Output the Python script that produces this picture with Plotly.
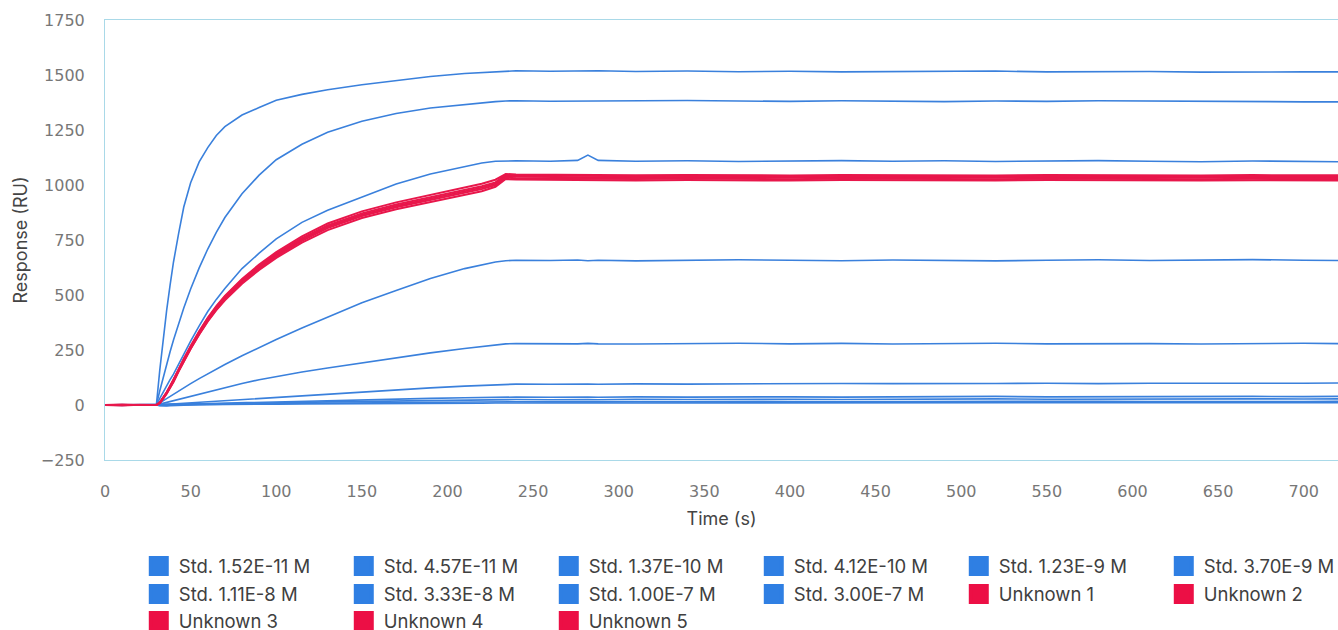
import plotly.graph_objects as go

# ---------------- data ----------------
time_s = [0, 10, 20, 30, 32, 34, 36, 38, 40, 43, 46, 50, 55, 60, 65, 70, 80, 90, 100,
          115, 130, 150, 170, 190, 210, 220, 228, 234, 240, 260, 276, 282, 288, 310,
          340, 370, 400, 430, 460, 490, 520, 550, 580, 610, 640, 670, 700, 720]

std_labels = ["Std. 1.52E-11 M", "Std. 4.57E-11 M", "Std. 1.37E-10 M", "Std. 4.12E-10 M",
              "Std. 1.23E-9 M", "Std. 3.70E-9 M", "Std. 1.11E-8 M", "Std. 3.33E-8 M",
              "Std. 1.00E-7 M", "Std. 3.00E-7 M"]
unk_labels = ["Unknown 1", "Unknown 2", "Unknown 3", "Unknown 4", "Unknown 5"]

std_1_52e_11 = [0, 0, 1, 0, -3, -5, -4, -3, -2, -1, 0, 0, 1, 1, 2, 2, 3, 3, 4, 5, 5, 6, 7, 7, 8, 8, 9, 9,
                9, 8, 10, 9, 8, 10, 9, 10, 9, 8, 10, 11, 9, 10, 11, 10, 9, 11, 10, 11]
std_4_57e_11 = [0, 1, 0, 0, -2, -3, -2, -1, 0, 0, 1, 1, 2, 3, 3, 4, 5, 6, 7, 8, 9, 10, 11, 12, 13, 14, 14, 15,
                15, 14, 16, 15, 14, 16, 15, 17, 16, 15, 16, 17, 15, 16, 17, 16, 15, 17, 16, 17]
std_1_37e_10 = [0, -1, 0, 0, 0, 0, 1, 1, 1, 2, 2, 3, 4, 4, 5, 6, 7, 8, 10, 12, 14, 16, 18, 20, 22, 23, 24, 25,
                25, 24, 26, 25, 24, 26, 25, 27, 26, 25, 27, 26, 28, 26, 27, 28, 26, 28, 27, 28]
std_4_12e_10 = [0, 1, -1, 0, 0, 1, 1, 2, 2, 3, 4, 5, 6, 7, 8, 9, 11, 13, 15, 18, 21, 24, 27, 30, 33, 34, 35, 36,
                36, 35, 37, 36, 35, 37, 36, 38, 37, 36, 38, 37, 39, 37, 38, 40, 38, 39, 38, 39]
std_1_23e_9 = [0, -1, 1, 0, 1, 2, 3, 4, 5, 6, 8, 10, 12, 15, 17, 20, 25, 30, 35, 42, 50, 60, 69, 78, 86, 90, 93, 95,
               95, 94, 96, 95, 94, 96, 95, 97, 96, 98, 97, 96, 98, 99, 97, 99, 98, 100, 99, 100]
std_3_70e_9 = [0, 1, -1, 0, 4, 8, 12, 16, 20, 26, 32, 40, 50, 60, 70, 80, 98, 115, 130, 150, 168, 192, 215, 237,
               257, 266, 274, 278,
               279, 277, 278, 280, 278, 277, 279, 281, 278, 280, 277, 279, 281, 278, 280, 279, 277, 280, 281, 279]
std_1_11e_8 = [0, -2, 1, 0, 10, 20, 30, 40, 50, 64, 78, 97, 120, 142, 163, 184, 224, 262, 298, 350, 400, 465, 520,
               575, 620, 638, 650, 656,
               658, 657, 659, 656, 658, 655, 657, 660, 658, 656, 659, 657, 655, 658, 660, 657, 659, 661, 658, 657]
std_3_33e_8 = [0, 1, -1, 0, 30, 60, 85, 115, 140, 185, 235, 290, 360, 425, 480, 530, 620, 690, 755, 830, 885, 945,
               1005, 1050, 1085, 1100, 1108, 1110,
               1110, 1108, 1112, 1136, 1112, 1108, 1110, 1107, 1109, 1111, 1108, 1110, 1107, 1109, 1111, 1108,
               1106, 1109, 1107, 1106]
std_1_00e_7 = [0, -1, 1, 0, 65, 127, 185, 242, 295, 370, 441, 527, 623, 709, 785, 852, 960, 1045, 1115, 1185, 1240,
               1290, 1325, 1350, 1367, 1374, 1379, 1382,
               1383, 1381, 1382, 1380, 1383, 1381, 1384, 1382, 1380, 1383, 1381, 1379, 1382, 1380, 1383, 1381,
               1379, 1380, 1378, 1378]
std_3_00e_7 = [0, 2, -1, 0, 160, 300, 430, 545, 650, 780, 900, 1010, 1105, 1170, 1225, 1265, 1318, 1352, 1385, 1412,
               1433, 1456, 1476, 1493, 1507, 1512, 1516, 1518,
               1519, 1517, 1518, 1517, 1519, 1516, 1518, 1515, 1517, 1514, 1516, 1515, 1518, 1514, 1515, 1516,
               1513, 1515, 1514, 1514]

unknown_1 = [0, -2, 1, 0, 10, 30, 55, 82, 110, 158, 205, 262, 328, 388, 440, 486, 562, 626, 682, 752, 810, 865, 905,
             938, 970, 988, 1006, 1040,
             1038, 1036, 1037, 1035, 1036, 1034, 1036, 1035, 1033, 1036, 1034, 1035, 1033, 1036, 1034, 1035,
             1033, 1035, 1034, 1034]
unknown_2 = [0, 1, -1, 0, 12, 33, 58, 86, 114, 162, 210, 267, 333, 394, 446, 492, 568, 632, 688, 758, 816, 871, 911,
             944, 976, 994, 1012, 1046,
             1044, 1042, 1043, 1041, 1042, 1040, 1042, 1041, 1039, 1042, 1040, 1041, 1039, 1042, 1040, 1041,
             1039, 1041, 1040, 1040]
unknown_3 = [0, -1, 0, 0, 8, 27, 51, 78, 105, 153, 200, 256, 322, 382, 434, 480, 556, 620, 676, 746, 804, 859, 899,
             932, 964, 982, 1000, 1033,
             1031, 1029, 1030, 1028, 1029, 1027, 1029, 1028, 1026, 1029, 1027, 1028, 1026, 1029, 1027, 1028,
             1026, 1028, 1027, 1027]
unknown_4 = [0, 2, 0, 0, 11, 31, 57, 85, 113, 162, 210, 268, 335, 396, 449, 496, 573, 638, 695, 766, 825, 880, 921,
             955, 988, 1006, 1024, 1050,
             1048, 1046, 1047, 1045, 1046, 1044, 1046, 1045, 1043, 1046, 1044, 1045, 1043, 1046, 1044, 1045,
             1043, 1045, 1044, 1044]
unknown_5 = [0, 0, -1, 0, 9, 28, 52, 79, 106, 154, 200, 256, 321, 380, 431, 476, 551, 614, 669, 738, 795, 850, 890,
             922, 954, 972, 992, 1027,
             1025, 1023, 1024, 1022, 1023, 1021, 1023, 1022, 1020, 1023, 1021, 1022, 1020, 1023, 1021, 1022,
             1020, 1022, 1021, 1021]

std_series = [std_1_52e_11, std_4_57e_11, std_1_37e_10, std_4_12e_10, std_1_23e_9,
              std_3_70e_9, std_1_11e_8, std_3_33e_8, std_1_00e_7, std_3_00e_7]
unk_series = [unknown_1, unknown_2, unknown_3, unknown_4, unknown_5]

x_ticks = list(range(0, 751, 50))
y_ticks = list(range(-250, 1751, 250))

# ---------------- styling ----------------
BLUE_LINE = "#3a80dc"
BLUE_KEY = "#2f7fe3"
RED_LINE = "#e8174b"
RED_KEY = "#ec0f45"
BORDER = "#a9d9e8"
LEGEND_FONT = dict(family="Inter, Noto Sans, sans-serif", size=18.5, color="#404040")

fig = go.Figure()

for name, vals in zip(std_labels, std_series):
    fig.add_trace(go.Scatter(x=time_s, y=vals, mode="lines", name=name, showlegend=False,
                             line=dict(color=BLUE_LINE, width=1.6)))
for name, vals in zip(unk_labels, unk_series):
    fig.add_trace(go.Scatter(x=time_s, y=vals, mode="lines", name=name, showlegend=False,
                             line=dict(color=RED_LINE, width=2)))

# legend keys (square swatches), laid out in three rows like the reference
legend_items = [(n, BLUE_KEY) for n in std_labels] + [(n, RED_KEY) for n in unk_labels]
for i, (name, col) in enumerate(legend_items):
    row = i // 6
    lg = ["legend", "legend2", "legend3"][row]
    fig.add_trace(go.Scatter(x=[None], y=[None], mode="markers", name=name, legend=lg,
                             marker=dict(symbol="square", size=16, color=col,
                                         line=dict(color=col, width=4)),
                             hoverinfo="skip"))

legend_common = dict(orientation="h", xanchor="left", yanchor="top", x=0.0274,
                     entrywidth=160, entrywidthmode="pixels", font=LEGEND_FONT,
                     bgcolor="rgba(0,0,0,0)", itemclick=False, itemdoubleclick=False,
                     traceorder="normal")

tick_font = dict(family="DejaVu Sans, sans-serif", size=16, color="#777777")
title_font = dict(family="Inter, Noto Sans, sans-serif", size=18, color="#444444")

fig.update_layout(
    width=1338, height=630,
    margin=dict(l=105, r=0, t=20, b=170, autoexpand=False),
    paper_bgcolor="white", plot_bgcolor="white",
    legend=dict(legend_common, y=-0.1989),
    legend2=dict(legend_common, y=-0.2625),
    legend3=dict(legend_common, y=-0.3239),
    xaxis=dict(range=[0, 720], tickvals=x_ticks, showgrid=False, zeroline=False,
               showline=True, linecolor=BORDER, linewidth=1, mirror=True,
               ticks="", ticklabelstandoff=17, tickfont=tick_font,
               title=dict(text="Time (s)", font=title_font, standoff=12)),
    yaxis=dict(range=[-250, 1750], tickvals=y_ticks, showgrid=False, zeroline=False,
               showline=True, linecolor=BORDER, linewidth=1, mirror=False,
               ticks="", ticklabelstandoff=16, tickfont=tick_font,
               title=dict(text="Response (RU)", font=title_font, standoff=8)),
)

fig.write_html(
    "out.html",
    config={"displayModeBar": False},
    post_script="document.documentElement.style.overflow='hidden';"
                "document.body.style.margin='0';document.body.style.overflow='hidden';",
)
